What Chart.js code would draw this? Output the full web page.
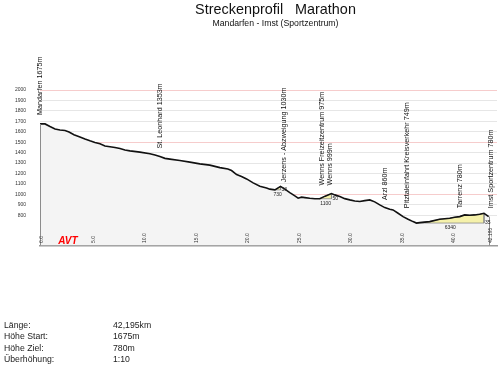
<!DOCTYPE html>
<html>
<head>
<meta charset="utf-8">
<script src="https://cdn.jsdelivr.net/npm/chart.js@4.4.1/dist/chart.umd.min.js"></script>
<style>
  body { margin: 0; background: #fff; font-family: "Liberation Sans", Arial, sans-serif; color: #111; }
  #wrap { position: relative; width: 500px; height: 375px; overflow: hidden; }
  #profile { position: absolute; left: 0; top: 0; }
  .title { position: absolute; left: 125px; width: 301px; text-align: center; white-space: pre; }
  #title { top: 0.5px; font-size: 14.4px; line-height: 16px; }
  #subtitle { top: 18px; font-size: 8.7px; line-height: 10px; }
  #info { position: absolute; left: 4px; top: 319.7px; font-size: 8.7px; line-height: 11.5px; color: #222; }
  #info div span { display: inline-block; width: 109px; }
</style>
</head>
<body>
<div id="wrap">
  <canvas id="profile" width="500" height="375"></canvas>
  <div class="title" id="title">Streckenprofil   Marathon</div>
  <div class="title" id="subtitle">Mandarfen - Imst (Sportzentrum)</div>
  <div id="info"></div>
</div>
<script>
// profile: km along the course / altitude in m
const PROFILE_KM = [0.00, 0.49, 0.97, 1.46, 1.94, 2.43, 2.82, 3.30, 3.88, 4.37, 4.85, 5.34, 5.83, 6.31, 6.80,
  7.28, 7.77, 8.25, 8.74, 9.71, 10.68, 11.17, 11.65, 12.14, 12.62, 13.59, 14.56, 15.53, 16.50, 17.48,
  18.25, 18.61, 19.10, 19.58, 20.07, 20.71, 21.36, 22.01, 22.33, 22.82, 23.37, 23.79, 24.27, 24.76, 25.08,
  25.41, 25.73, 26.21, 26.70, 27.18, 27.70, 28.32, 28.64, 29.13, 29.61, 30.10, 30.58, 31.07, 31.55, 32.04,
  32.52, 33.01, 33.50, 33.98, 34.30, 34.79, 35.27, 35.76, 36.24, 36.57, 36.89, 37.86, 38.83, 39.81, 40.29,
  40.78, 41.26, 41.75, 42.23, 42.72, 43.14, 43.59];
const PROFILE_ALT = [1675, 1675, 1650, 1626, 1616, 1612, 1598, 1572, 1550, 1530, 1513, 1497, 1484, 1463, 1456,
  1449, 1440, 1425, 1417, 1405, 1390, 1378, 1362, 1345, 1338, 1324, 1309, 1292, 1280, 1256,
  1243, 1228, 1190, 1171, 1148, 1110, 1078, 1062, 1050, 1043, 1076, 1050, 1017, 985, 963,
  973, 969, 963, 958, 958, 983, 1008, 995, 979, 959, 947, 937, 931, 940, 947,
  928, 899, 873, 857, 851, 819, 787, 762, 739, 725, 729, 739, 762, 771, 781,
  787, 803, 800, 803, 810, 819, 787];

const Y_TICKS = [800, 900, 1000, 1100, 1200, 1300, 1400, 1500, 1600, 1700, 1800, 1900, 2000];
const X_TICK_KM = [0, 5, 10, 15, 20, 25, 30, 35, 40, 43.59];
const X_TICK_LABELS = ['0.0', '5.0', '10.0', '15.0', '20.0', '25.0', '30.0', '35.0', '40.0', '42.195'];

const PLACE_KM = [0, 11.65, 23.7, 27.77, 33.5, 35.7, 40.8, 43.85];
const PLACE_ALT = [1675, 1353, 1030, 999, 860, 749, 780, 780];
const PLACE_NAMES = [
  ['Mandarfen 1675m'],
  ['St. Leonhard 1353m'],
  ['Jerzens - Abzweigung 1030m'],
  ['Wenns Freizeitzentrum 975m', 'Wenns 999m'],
  ['Arzl 860m'],
  ['Pitztaleinfahrt Kreisverkehr 749m'],
  ['Tarrenz 780m'],
  ['Imst Sportzentrum 780m']
];

// uphill stretches (yellow): from / to km, length in m, climb in m
const CLIMB_FROM_KM = [22.82, 27.18, 36.57];
const CLIMB_TO_KM = [23.37, 28.32, 43.14];
const CLIMB_LENGTH = ['730', '1100', '6340'];
const CLIMB_GAIN = ['33', '50', '35'];

const INFO_LABELS = ['Länge:', 'Höhe Start:', 'Höhe Ziel:', 'Überhöhung:'];
const INFO_VALUES = ['42,195km', '1675m', '780m', '1:10'];

const FONT = '"Liberation Sans", Arial, sans-serif';

document.getElementById('info').innerHTML = INFO_LABELS
  .map((l, i) => `<div><span>${l}</span>${INFO_VALUES[i]}</div>`).join('');

const profilePts = PROFILE_KM.map((k, i) => ({ x: k, y: PROFILE_ALT[i] }));

function altAt(km) {
  for (let i = 1; i < PROFILE_KM.length; i++) {
    if (km <= PROFILE_KM[i]) {
      const t = (km - PROFILE_KM[i - 1]) / (PROFILE_KM[i] - PROFILE_KM[i - 1]);
      return PROFILE_ALT[i - 1] + t * (PROFILE_ALT[i] - PROFILE_ALT[i - 1]);
    }
  }
  return PROFILE_ALT[PROFILE_ALT.length - 1];
}

function climbShape(i) {
  const a = CLIMB_FROM_KM[i], b = CLIMB_TO_KM[i];
  const base = altAt(a);
  const pts = profilePts.filter(p => p.x >= a && p.x <= b);
  return [{ x: a, y: base }, ...pts, { x: b, y: base }, { x: a, y: base }];
}

const climbSets = CLIMB_FROM_KM.map((_, i) => ({
  data: climbShape(i),
  borderColor: '#8a8a8a',
  borderWidth: 0.8,
  backgroundColor: '#f5f1aa',
  fill: 'shape',
  pointRadius: 0
}));

const annotations = {
  id: 'annotations',
  afterDatasetsDraw(chart) {
    const { ctx, chartArea } = chart;
    const x = chart.scales.x, y = chart.scales.y;
    ctx.save();

    // side edges of the profile
    ctx.strokeStyle = '#8c8c8c';
    ctx.lineWidth = 1;
    [0, PROFILE_KM.length - 1].forEach(i => {
      const px = Math.round(x.getPixelForValue(PROFILE_KM[i])) + 0.5;
      ctx.beginPath();
      ctx.moveTo(px, y.getPixelForValue(PROFILE_ALT[i]));
      ctx.lineTo(px, chartArea.bottom);
      ctx.stroke();
    });

    // km labels inside the plot
    ctx.fillStyle = '#333';
    ctx.font = '5px ' + FONT;
    ctx.textAlign = 'left';
    ctx.textBaseline = 'middle';
    X_TICK_KM.forEach((km, i) => {
      ctx.save();
      ctx.translate(x.getPixelForValue(km) + 2, chartArea.bottom - 2.5);
      ctx.rotate(-Math.PI / 2);
      ctx.fillText(X_TICK_LABELS[i], 0, 0);
      ctx.restore();
    });

    // place names
    ctx.fillStyle = '#111';
    ctx.font = '7.2px ' + FONT;
    const lowest = y.getPixelForValue(800) - 7;
    PLACE_KM.forEach((km, i) => {
      const lines = PLACE_NAMES[i];
      const bottom = Math.min(y.getPixelForValue(PLACE_ALT[i]) - 9, lowest);
      const cx = x.getPixelForValue(km);
      lines.forEach((txt, j) => {
        ctx.save();
        ctx.translate(cx + (j - (lines.length - 1) / 2) * 8, bottom);
        ctx.rotate(-Math.PI / 2);
        ctx.fillText(txt, 0, 0);
        ctx.restore();
      });
    });

    // climb length / height
    ctx.fillStyle = '#222';
    ctx.font = '5px ' + FONT;
    CLIMB_FROM_KM.forEach((a, i) => {
      const x0 = x.getPixelForValue(a), x1 = x.getPixelForValue(CLIMB_TO_KM[i]);
      const yb = y.getPixelForValue(altAt(a));
      ctx.textAlign = 'center';
      ctx.fillText(CLIMB_LENGTH[i], (x0 + x1) / 2, yb + 5);
      ctx.textAlign = 'left';
      ctx.fillText(CLIMB_GAIN[i], x1 + 1, yb);
    });

    // logo
    ctx.fillStyle = '#ff0000';
    ctx.font = 'italic bold 10px ' + FONT;
    ctx.textAlign = 'center';
    ctx.textBaseline = 'alphabetic';
    ctx.fillText('AVT', chartArea.left + 28, chartArea.bottom - 1.5);
    ctx.restore();
  }
};

new Chart(document.getElementById('profile'), {
  type: 'line',
  data: {
    datasets: [
      { data: profilePts, borderColor: '#111', borderWidth: 1.6, fill: false, pointRadius: 0 },
      ...climbSets,
      { data: profilePts, borderWidth: 0, backgroundColor: '#f4f4f4', fill: 'start', pointRadius: 0 }
    ]
  },
  options: {
    responsive: false,
    animation: false,
    events: [],
    layout: { padding: { top: 90, right: 3, bottom: 129.5, left: 0 } },
    plugins: { legend: { display: false }, tooltip: { enabled: false } },
    scales: {
      x: {
        type: 'linear', min: 0, max: 44.4,
        grid: { display: false },
        ticks: { display: false },
        border: { color: '#9a9a9a', width: 1.5 },
        afterBuildTicks: s => { s.ticks = X_TICK_KM.map(v => ({ value: v })); },
        afterFit: s => { s.height = 0; }
      },
      y: {
        min: 510, max: 2000,
        afterBuildTicks: s => { s.ticks = Y_TICKS.map(v => ({ value: v })); },
        ticks: { font: { size: 5, family: FONT }, color: '#333', padding: 14, callback: v => String(v) },
        grid: {
          drawTicks: false,
          lineWidth: 1,
          color: c => (c.tick && c.tick.value % 500 === 0) ? '#f6cccc' : '#e6e6e6'
        },
        border: { display: false },
        afterFit: s => { s.width = 40; }
      }
    }
  },
  plugins: [annotations]
});
</script>
</body>
</html>
